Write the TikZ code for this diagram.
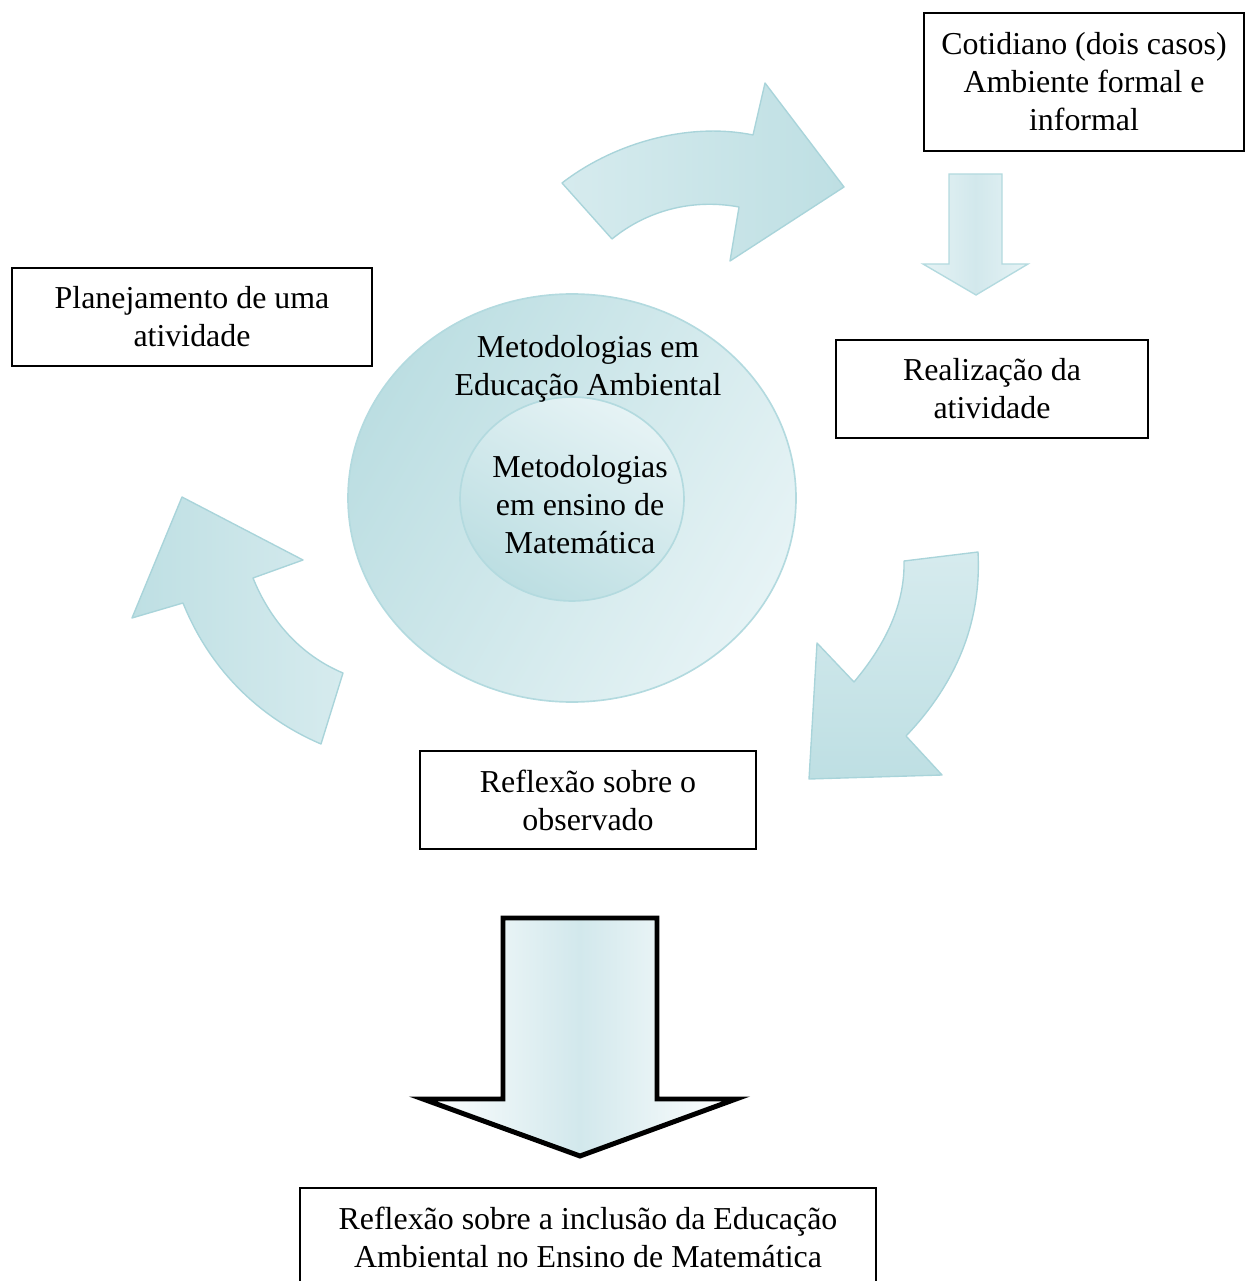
\documentclass[tikz,border=0pt]{standalone}
\usepackage{fontspec}
\setmainfont{Liberation Serif}
\definecolor{arrowfill}{HTML}{BEDFE3}
\definecolor{arrowlight}{HTML}{D6EBEE}
\definecolor{arrowedge}{HTML}{A9D4DA}
\definecolor{circdark}{HTML}{BCDEE2}
\definecolor{circlight}{HTML}{E6F3F5}
\definecolor{circedge}{HTML}{B3DADF}
\definecolor{shaftmid}{HTML}{D2E8EC}
\tikzset{
  txt/.style={font=\fontsize{11.6pt}{13.8pt}\selectfont, align=center, inner sep=0pt},
  boxnode/.style={txt, draw=black, line width=0.75pt},
  curvearrow/.style={draw=arrowedge, line width=0.5pt, line join=round},
}
\begin{document}
\begin{tikzpicture}[x=0.3636pt, y=-0.3636pt]
\useasboundingbox (0,0) rectangle (1245,1281);

% central circles
\draw[circedge, line width=0.6pt, top color=circdark, bottom color=circlight, shading angle=60]
  (572,498) ellipse [x radius=224, y radius=204];
\draw[circedge, line width=0.6pt, top color=circdark, bottom color=circlight, shading angle=150]
  (572,499) ellipse [x radius=112, y radius=102];
\node[txt] (outertext) at (588,369) {Metodologias em\\Educação Ambiental};
\node[txt] (innertext) at (580,505) {Metodologias\\em ensino de\\Matemática};

% top curved arrow (pointing right)
\draw[curvearrow, top color=arrowfill, bottom color=arrowlight, shading angle=-90]
  (562,183) .. controls (615,142) and (690,122) .. (753,135)
  -- (765,83) -- (844,187) -- (730,261) -- (739,207)
  .. controls (690,198) and (645,212) .. (612,239) -- cycle;

% right curved arrow (pointing down-left)
\draw[curvearrow, top color=arrowlight, bottom color=arrowfill]
  (904,561) -- (978,552)
  .. controls (982,630) and (950,690) .. (906,736)
  -- (942,775) -- (809,779) -- (817,643) -- (854,682)
  .. controls (885,645) and (905,605) .. cycle;

% left curved arrow (pointing up-left)
\draw[curvearrow, top color=arrowfill, bottom color=arrowlight, shading angle=90]
  (182,497) -- (303,560) -- (253,578)
  .. controls (270,620) and (300,655) .. (343,673)
  -- (321,744)
  .. controls (260,718) and (210,670) .. (183,603)
  -- (132,618) -- cycle;

% small down arrow
\draw[draw=circedge, line width=0.5pt, left color=circlight, right color=circlight, middle color=shaftmid]
  (949,174) -- (1002,174) -- (1002,264) -- (1028,264) -- (976,295)
  -- (923,264) -- (949,264) -- cycle;

% big down arrow
\draw[draw=black, line width=1.8pt, line join=miter, left color=white, right color=white, middle color=shaftmid]
  (503,918) -- (657,918) -- (657,1099) -- (736,1099) -- (580,1156)
  -- (423,1099) -- (503,1099) -- cycle;

% boxes
\node[boxnode, minimum width=116.4pt, minimum height=50.2pt] (cotidiano) at (1084,82)
  {Cotidiano (dois casos)\\Ambiente formal e\\informal};
\node[boxnode, minimum width=130.9pt, minimum height=35.6pt] (planejamento) at (192,317)
  {Planejamento de uma\\atividade};
\node[boxnode, minimum width=113.4pt, minimum height=35.6pt] (realizacao) at (992,389)
  {Realização da\\atividade};
\node[boxnode, minimum width=122.2pt, minimum height=35.6pt] (reflexao) at (588,800)
  {Reflexão sobre o\\observado};
\node[boxnode, minimum width=209.4pt, minimum height=35.6pt] (inclusao) at (588,1237)
  {Reflexão sobre a inclusão da Educação\\Ambiental no Ensino de Matemática};
\end{tikzpicture}
\end{document}
